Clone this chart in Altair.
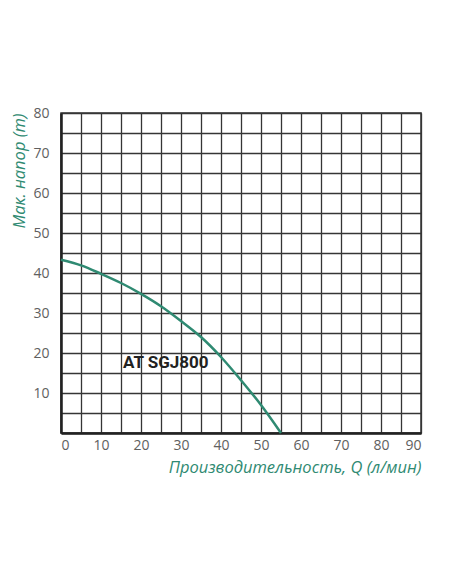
import altair as alt
import pandas as pd

flow = [0, 5, 10, 15, 20, 25, 30, 35, 40, 45, 50, 55]
head = [43.3, 41.9, 39.8, 37.5, 34.8, 31.7, 28.0, 24.0, 19.0, 13.2, 7.0, 0.0]
x_ticks = list(range(0, 95, 5))
y_ticks = list(range(0, 85, 5))
model_label = "AT SGJ800"
label_pos = {"x": 15.5, "y": 17.5}

df = pd.DataFrame({"q": flow, "h": head})
lab = pd.DataFrame({"q": [label_pos["x"]], "h": [label_pos["y"]], "t": [model_label]})

TEAL = "#2f8a72"

xscale = alt.Scale(domain=[0, 90], nice=False, zero=False)
yscale = alt.Scale(domain=[0, 80], nice=False, zero=False)

xaxis = alt.Axis(
    values=x_ticks,
    labelExpr="datum.value % 10 == 0 ? datum.label : ''",
    labelOverlap=False,
    title="Производительность, Q (л/мин)",
    titleAnchor="end",
    titleFont="Open Sans", titleFontStyle="italic", titleFontWeight="normal",
    titleFontSize=16.5, titleColor=TEAL, titlePadding=7,
    labelFont="Open Sans", labelFontSize=14, labelColor="#606060", labelPadding=5,
    ticks=False, grid=True, gridColor="#353535", gridWidth=1.3,
    domainColor="#222222", domainWidth=2.5,
)
yaxis = alt.Axis(
    values=y_ticks,
    labelExpr="datum.value % 10 == 0 && datum.value > 0 ? datum.label : ''",
    labelOverlap=False,
    title="Мак. напор (m)",
    titleAnchor="end",
    titleFont="Open Sans", titleFontStyle="italic", titleFontWeight="normal",
    titleFontSize=16.5, titleColor=TEAL, titlePadding=5,
    labelFont="Open Sans", labelFontSize=14, labelColor="#606060", labelPadding=12,
    ticks=False, grid=True, gridColor="#353535", gridWidth=1.3,
    domainColor="#222222", domainWidth=2.5,
)

line = alt.Chart(df).mark_line(color=TEAL, strokeWidth=2.5, interpolate="monotone").encode(
    x=alt.X("q:Q", scale=xscale, axis=xaxis),
    y=alt.Y("h:Q", scale=yscale, axis=yaxis),
)

text = alt.Chart(lab).mark_text(
    align="left", baseline="middle", font="Roboto", fontWeight="bold",
    fontSize=17, color="#222222"
).encode(
    x=alt.X("q:Q", scale=xscale, axis=xaxis),
    y=alt.Y("h:Q", scale=yscale, axis=yaxis),
    text="t:N",
)

chart = alt.layer(line, text).properties(
    width=360, height=320,
    background="white",
    autosize=alt.AutoSizeParams(type="none"),
    padding={"left": 53, "top": 105, "right": 20, "bottom": 60},
).configure_view(stroke="#333333", strokeWidth=1.5)

chart.save("out.html", embed_options={"renderer": "svg", "actions": False})
